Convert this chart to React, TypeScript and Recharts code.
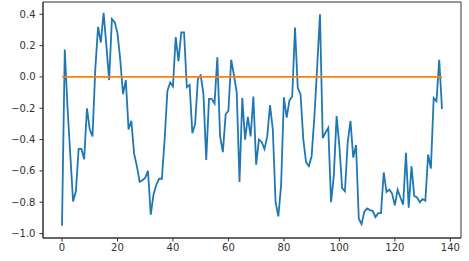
import React from 'react';
import { LineChart, Line, XAxis, YAxis, ReferenceArea } from 'recharts';

// values, index 0..137
const values: number[] = [
  -0.95, 0.175, -0.2, -0.5, -0.795, -0.73, -0.46, -0.46, -0.525, -0.2,
  -0.335, -0.38, 0.05, 0.32, 0.22, 0.41, 0.2, -0.02, 0.37, 0.35,
  0.28, 0.11, -0.11, -0.02, -0.335, -0.28, -0.49, -0.57, -0.67, -0.66,
  -0.645, -0.6, -0.88, -0.75, -0.69, -0.65, -0.65, -0.4, -0.09, -0.035,
  -0.06, 0.255, 0.1, 0.285, 0.285, -0.065, -0.05, -0.36, -0.3, -0.01,
  0.01, -0.11, -0.53, -0.14, -0.14, -0.17, 0.125, -0.38, -0.48, -0.24,
  -0.215, 0.11, 0.01, -0.1, -0.67, -0.135, -0.4, -0.255, -0.38, -0.125,
  -0.56, -0.4, -0.415, -0.46, -0.38, -0.18, -0.335, -0.8, -0.89, -0.69,
  -0.13, -0.26, -0.15, -0.125, 0.315, -0.07, -0.11, -0.4, -0.545, -0.57,
  -0.505, -0.25, 0.065, 0.4, -0.39, -0.355, -0.325, -0.8, -0.63, -0.25,
  -0.44, -0.71, -0.73, -0.42, -0.28, -0.515, -0.435, -0.905, -0.94, -0.86,
  -0.84, -0.85, -0.855, -0.895, -0.87, -0.87, -0.61, -0.735, -0.72, -0.745,
  -0.82, -0.72, -0.77, -0.815, -0.485, -0.835, -0.57, -0.76, -0.77, -0.8,
  -0.78, -0.79, -0.495, -0.585, -0.135, -0.155, 0.11, -0.205,
];
const baseline: number[] = values.map(() => 0);

const xTicks = [0, 20, 40, 60, 80, 100, 120, 140];
const yTicks = [-1.0, -0.8, -0.6, -0.4, -0.2, 0.0, 0.2, 0.4];

const xDomain: [number, number] = [-6.85, 143.85];
const yDomain: [number, number] = [-1.0285, 0.4785];

const chartData = values.map((v, i) => ({ x: i, value: v, zero: baseline[i] }));

const tickStyle = { fontFamily: 'DejaVu Sans', fontSize: 10, fill: '#333' };
const fmtY = (v: number) => (v < 0 ? '\u2212' + Math.abs(v).toFixed(1) : v.toFixed(1));

export default function App() {
  return (
    <div style={{ position: 'absolute', left: 0, top: 0, background: '#fff' }}>
      <LineChart width={469} height={261} data={chartData} margin={{ top: 2, right: 8, bottom: 0, left: 0 }}>
        <XAxis
          dataKey="x"
          type="number"
          domain={xDomain}
          ticks={xTicks}
          allowDataOverflow
          height={23}
          tickSize={3.5}
          tickMargin={2}
          tick={tickStyle}
          stroke="#333"
          tickLine={{ stroke: '#333' }}
        />
        <YAxis
          type="number"
          domain={yDomain}
          ticks={yTicks}
          allowDataOverflow
          width={43}
          tickSize={3.5}
          tickMargin={4}
          tick={tickStyle}
          tickFormatter={fmtY}
          stroke="#333"
          tickLine={{ stroke: '#333' }}
        />
        <ReferenceArea
          x1={xDomain[0]}
          x2={xDomain[1]}
          y1={yDomain[0]}
          y2={yDomain[1]}
          fill="none"
          stroke="#333"
          strokeWidth={1}
          ifOverflow="visible"
        />
        <Line dataKey="value" stroke="#1f77b4" strokeWidth={1.8} dot={false} isAnimationActive={false} />
        <Line dataKey="zero" stroke="#ff7f0e" strokeWidth={1.8} dot={false} isAnimationActive={false} />
      </LineChart>
    </div>
  );
}
